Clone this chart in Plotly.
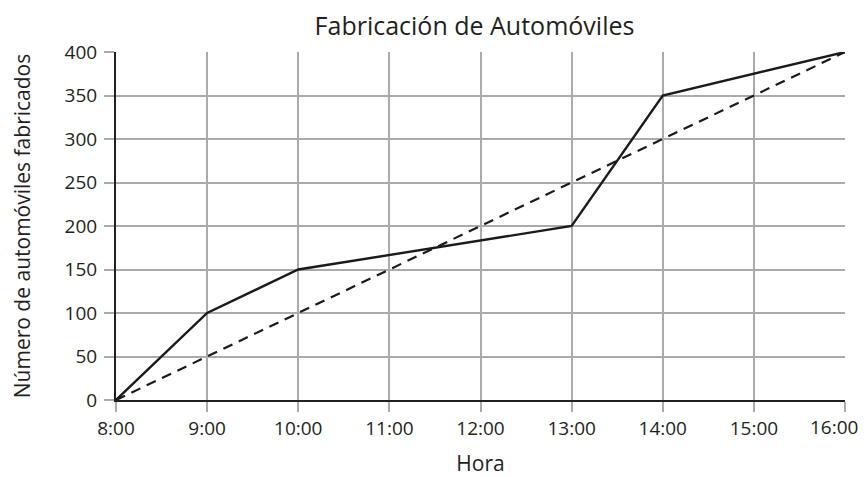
import plotly.graph_objects as go

hours = [8, 9, 10, 11, 12, 13, 14, 15, 16]
hour_labels = ["8:00", "9:00", "10:00", "11:00", "12:00", "13:00", "14:00", "15:00", "16:00"]

actual_hours = [8, 9, 10, 13, 14, 16]
actual_cars = [0, 100, 150, 200, 350, 400]

planned_hours = [8, 16]
planned_cars = [0, 400]

y_ticks = [0, 50, 100, 150, 200, 250, 300, 350, 400]

font_family = "Open Sans, Noto Sans, sans-serif"
grid_color = "#ababab"
text_color = "#231f20"

fig = go.Figure()
fig.add_trace(go.Scatter(x=planned_hours, y=planned_cars, mode="lines",
                         line=dict(color="#1a1a1a", width=2.2, dash="10px,7px"),
                         showlegend=False, hoverinfo="skip"))
fig.add_trace(go.Scatter(x=actual_hours, y=actual_cars, mode="lines",
                         line=dict(color="#1a1a1a", width=2.4),
                         showlegend=False, hoverinfo="skip"))

# last tick label sits at the paper edge; draw it as an annotation so it is not dropped
fig.add_annotation(x=hours[-1], y=0, xref="x", yref="y", text=hour_labels[-1],
                   showarrow=False, xanchor="right", yanchor="middle",
                   xshift=15, yshift=-27,
                   font=dict(size=19, family=font_family, color=text_color))

fig.update_layout(
    width=858, height=469,
    margin=dict(l=108, r=21, t=44, b=77),
    paper_bgcolor="white", plot_bgcolor="white",
    font=dict(family=font_family, size=19, color=text_color),
    title=dict(text="Fabricación de Automóviles", x=0.5 - 6 / 729, xanchor="center",
               xref="paper", y=1 - 18 / 469, yanchor="middle",
               font=dict(size=25, family=font_family, color=text_color)),
    xaxis=dict(range=[8, 16], tickvals=hours, ticktext=hour_labels[:-1] + [""],
               showgrid=True, gridcolor=grid_color, gridwidth=2,
               ticks="outside", ticklen=10, tickwidth=2, tickcolor=grid_color,
               showline=True, linecolor=text_color, linewidth=2,
               zeroline=False, mirror=False, automargin=False,
               title=dict(text="Hora", font=dict(size=21), standoff=24)),
    yaxis=dict(range=[0, 400], tickvals=y_ticks,
               showgrid=True, gridcolor=grid_color, gridwidth=2,
               ticks="outside", ticklen=10, tickwidth=2, tickcolor=grid_color,
               ticklabelstandoff=3,
               showline=True, linecolor=text_color, linewidth=2,
               zeroline=False, automargin=False,
               title=dict(text="Número de automóviles fabricados", font=dict(size=21), standoff=41)),
)

fig.write_html("out.html")
